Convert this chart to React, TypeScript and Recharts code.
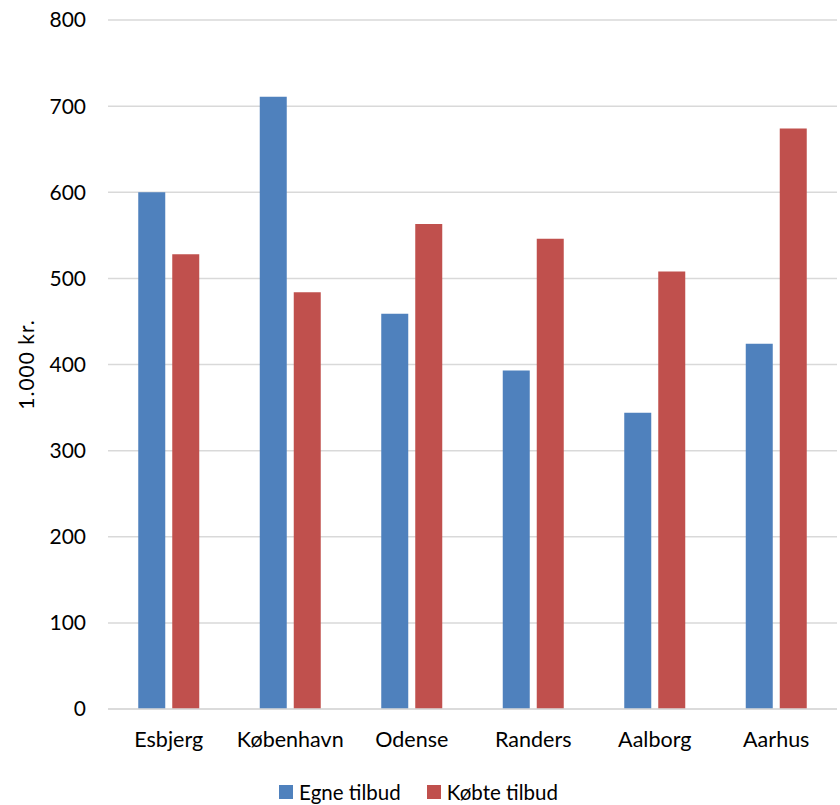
import React from 'react';
import { BarChart, Bar, XAxis, YAxis, CartesianGrid, Legend } from 'recharts';

const cities = ['Esbjerg', 'København', 'Odense', 'Randers', 'Aalborg', 'Aarhus'];
const egneTilbud = [600, 711, 459, 393, 344, 424];
const koebteTilbud = [528, 484, 563, 546, 508, 674];
const yTicks = [0, 100, 200, 300, 400, 500, 600, 700, 800];

const data = cities.map((city, i) => ({
    city,
    egne: egneTilbud[i],
    koebte: koebteTilbud[i],
}));

const FONT = 'Lato, "Open Sans", sans-serif';

const renderLegend = (props: any) => {
    const { payload } = props;
    return (
        <div style={{ height: 26, display: 'flex', justifyContent: 'center', alignItems: 'center', fontFamily: FONT, fontSize: 20.5, color: '#000' }}>
            {payload.map((entry: any, i: number) => (
                <div key={i} style={{ display: 'flex', alignItems: 'center', marginRight: i === 0 ? 26 : 0 }}>
                    <span style={{ display: 'inline-block', width: 14, height: 14, background: entry.color, marginRight: 6 }} />
                    <span>{entry.value}</span>
                </div>
            ))}
        </div>
    );
};

const App: React.FC = () => {
    return (
        <div style={{ position: 'absolute', left: 0, top: 0, width: 840, height: 805, background: '#fff' }}>
            <BarChart
                width={840}
                height={805}
                data={data}
                margin={{ top: 20, right: 3, left: 0, bottom: 0 }}
                barCategoryGap="24.9%"
                barGap={7}
            >
                <CartesianGrid vertical={false} stroke="#d9d9d9" strokeWidth={1.5} />
                <XAxis
                    dataKey="city"
                    height={70}
                    tickLine={false}
                    axisLine={{ stroke: '#d9d9d9', strokeWidth: 1.5 }}
                    tickMargin={17}
                    tick={{ fill: '#000', fontSize: 21.5, fontFamily: FONT }}
                    interval={0}
                />
                <YAxis
                    width={108}
                    domain={[0, 800]}
                    ticks={yTicks}
                    axisLine={false}
                    tickLine={false}
                    tickMargin={16}
                    tick={{ fill: '#000', fontSize: 21, fontFamily: FONT }}
                    label={{
                        value: '1.000 kr.',
                        angle: -90,
                        position: 'insideLeft',
                        offset: 27,
                        style: { textAnchor: 'middle', fill: '#000', fontSize: 21, letterSpacing: 1, fontFamily: FONT },
                    }}
                />
                <Legend verticalAlign="bottom" height={26} content={renderLegend} />
                <Bar dataKey="egne" name="Egne tilbud" fill="#4f81bd" isAnimationActive={false} />
                <Bar dataKey="koebte" name="Købte tilbud" fill="#c0504d" isAnimationActive={false} />
            </BarChart>
        </div>
    );
};

export default App;
